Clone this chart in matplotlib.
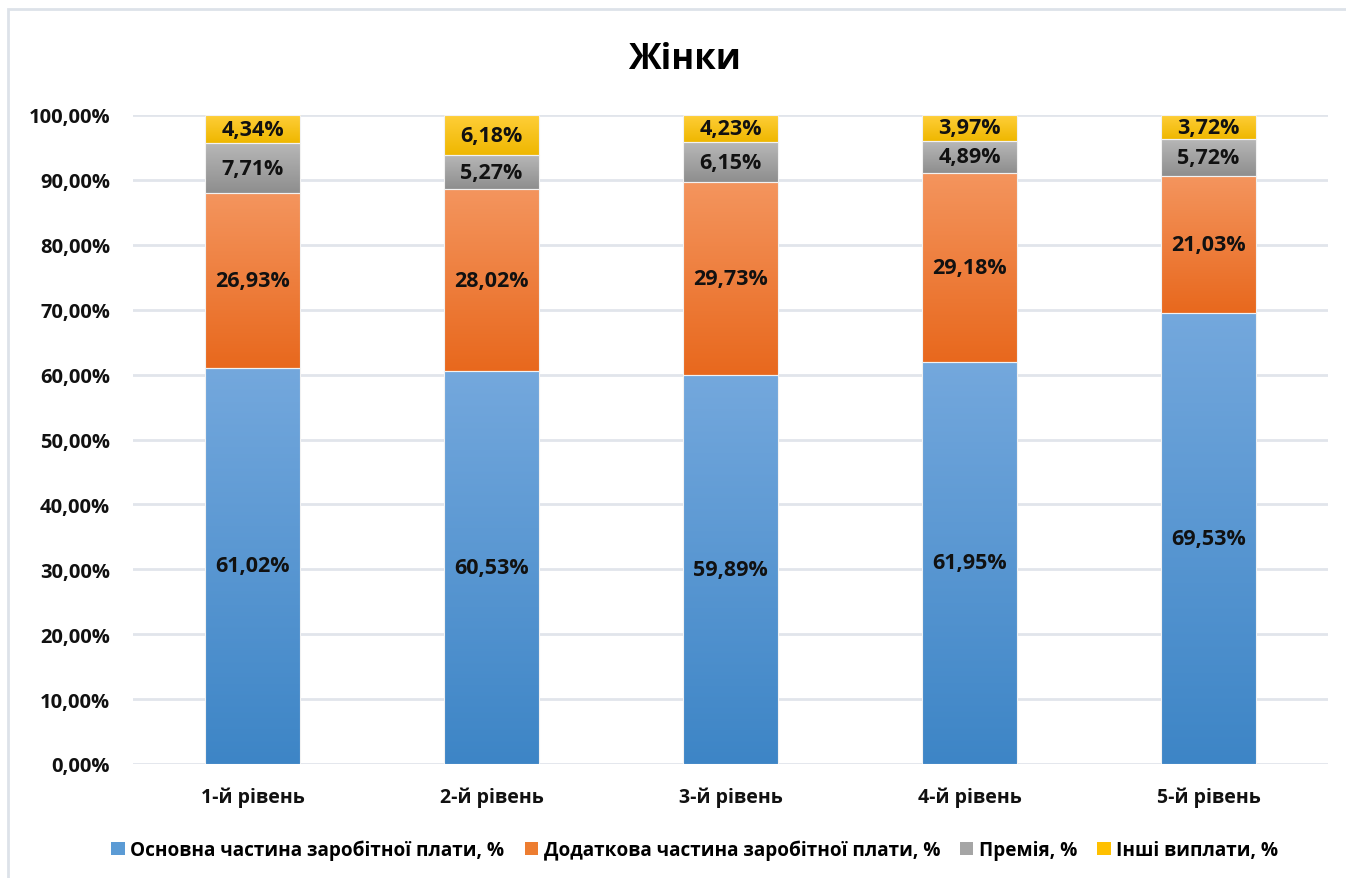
import numpy as np
import matplotlib
matplotlib.use("Agg")
import matplotlib.pyplot as plt
from matplotlib.colors import LinearSegmentedColormap
from matplotlib.patches import Patch, Rectangle

plt.rcParams['font.family'] = ['Open Sans', 'DejaVu Sans']
plt.rcParams['font.weight'] = 'bold'

levels = ['1-й рівень', '2-й рівень', '3-й рівень', '4-й рівень', '5-й рівень']
basic = [61.02, 60.53, 59.89, 61.95, 69.53]
extra = [26.93, 28.02, 29.73, 29.18, 21.03]
bonus = [7.71, 5.27, 6.15, 4.89, 5.72]
other = [4.34, 6.18, 4.23, 3.97, 3.72]

series_names = ['Основна частина заробітної плати, %',
                'Додаткова частина заробітної плати, %',
                'Премія, %',
                'Інші виплати, %']
series = [basic, extra, bonus, other]
# (top colour, bottom colour) for the Excel-like gradient fill
grads = [('#74a8dd', '#3d85c6'),
         ('#f4955e', '#e8681d'),
         ('#b8b8b8', '#8e8e8e'),
         ('#ffcf3a', '#efb700')]
mids = ['#5b9bd5', '#ed7d31', '#a5a5a5', '#ffc000']

fig = plt.figure(figsize=(13.46, 8.79), dpi=100)
ax = fig.add_axes([133 / 1346, 114 / 879, 1195 / 1346, 649 / 879])

# light frame around the chart area
fig.patches.append(Rectangle((8 / 1346, -0.05), 1.1, (879 - 10) / 879 + 0.05,
                             transform=fig.transFigure, fill=False,
                             edgecolor='#dde2e9', linewidth=2))

x = np.arange(len(levels))
width = 0.40
bottom = np.zeros(len(levels))
grad = np.linspace(1, 0, 256).reshape(-1, 1)

for vals, (top_c, bot_c) in zip(series, grads):
    cmap = LinearSegmentedColormap.from_list('g', [bot_c, top_c])
    bars = ax.bar(x, vals, width, bottom=bottom, color='none',
                  edgecolor='#f2f2f2', linewidth=0.8, zorder=3)
    for rect, v, b in zip(bars, vals, bottom):
        x0 = rect.get_x()
        im = ax.imshow(grad, extent=[x0, x0 + width, b, b + v], cmap=cmap,
                       aspect='auto', vmin=0, vmax=1, zorder=2,
                       interpolation='bicubic')
        im.set_clip_path(rect)
        ax.text(rect.get_x() + width / 2, b + v / 2,
                f'{v:.2f}%'.replace('.', ','), ha='center', va='center',
                fontsize=15.5, fontweight='bold', color='#111111', zorder=4)
    bottom = bottom + np.array(vals)

ax.set_xlim(-0.5, len(levels) - 0.5)
ax.set_ylim(0, 100)
ax.set_yticks(np.arange(0, 101, 10))
ax.set_yticklabels([f'{t:.2f}%'.replace('.', ',') for t in np.arange(0, 101, 10)])
ax.set_xticks(x)
ax.set_xticklabels(levels)
ax.tick_params(axis='y', length=0, labelsize=14.5, colors='#111111', pad=16.5)
ax.tick_params(axis='x', length=0, labelsize=14, colors='#111111', pad=16)
for lab in ax.get_xticklabels() + ax.get_yticklabels():
    lab.set_fontweight('bold')
ax.grid(axis='y', color='#e1e5eb', linewidth=2, zorder=0)
ax.set_axisbelow(True)
for s in ax.spines.values():
    s.set_visible(False)

fig.text(684 / 1346, 1 - 60 / 879, 'Жінки', ha='center', va='center',
         fontsize=25, fontweight='bold')

handles = [Patch(facecolor=c, edgecolor='none') for c in mids]
fig.legend(handles, series_names, loc='center', bbox_to_anchor=(695 / 1346, 1 - 851 / 879),
           ncol=4, frameon=False, fontsize=13.7, handlelength=0.7,
           handleheight=0.7, handletextpad=0.3, columnspacing=1.05)

fig.savefig('out.png', dpi=100)
